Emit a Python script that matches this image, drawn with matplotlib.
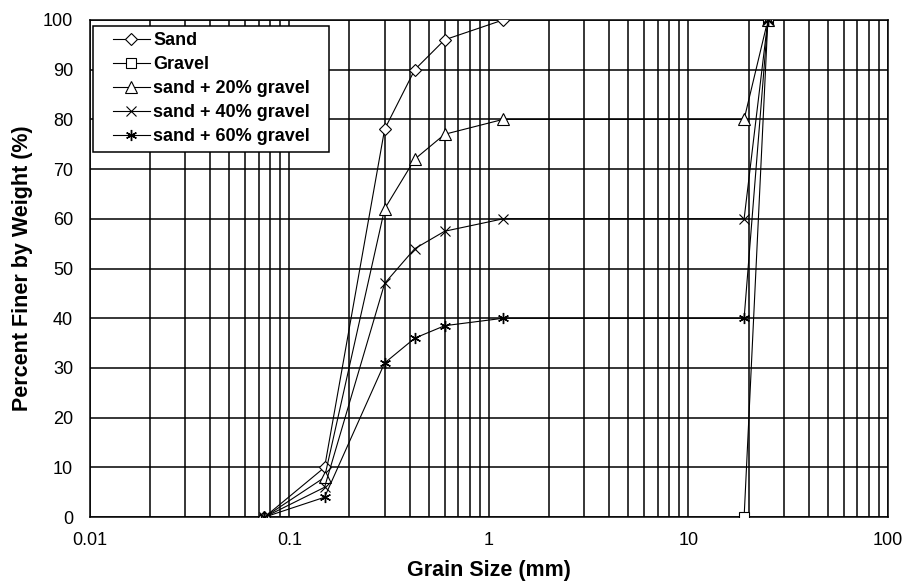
import matplotlib.pyplot as plt
from matplotlib.legend_handler import HandlerLine2D
from matplotlib.lines import Line2D
from matplotlib.ticker import FixedLocator, LogLocator, NullFormatter

plt.rcParams['font.family'] = ['Liberation Sans', 'DejaVu Sans']

# sieve sizes (mm)
sand_x = [0.075, 0.15, 0.3, 0.425, 0.6, 1.18]
sand_y = [0, 10, 78, 90, 96, 100]

gravel_x = [19, 25]
gravel_y = [0, 100]

mix_x = [0.075, 0.15, 0.3, 0.425, 0.6, 1.18, 19, 25]
mix20_y = [0, 8, 62, 72, 77, 80, 80, 100]
mix40_y = [0, 6, 47, 54, 57.5, 60, 60, 100]
mix60_y = [0, 4, 31, 36, 38.5, 40, 40, 100]

x_ticks = [0.01, 0.1, 1, 10, 100]
x_labels = ['0.01', '0.1', '1', '10', '100']
y_ticks = list(range(0, 101, 10))


class IndentHandler(HandlerLine2D):
    # legend line starts a bit to the right of the frame
    def get_xdata(self, legend, xdescent, ydescent, width, height, fontsize):
        off = 0.74 * fontsize
        x0 = -xdescent + off
        x1 = -xdescent + width
        return [x0, x1], [0.5 * (x0 + x1)]


fig = plt.figure(figsize=(9.08, 5.85), dpi=100)
ax = fig.add_axes([0.099, 0.116, 0.879, 0.85])

lw = 0.8
ax.plot(sand_x, sand_y, '-', color='black', lw=lw, marker='D', ms=6.5,
        mfc='white', mec='black', mew=0.8, label='Sand', zorder=5)
ax.plot(gravel_x, gravel_y, '-', color='black', lw=lw, marker='s', ms=7,
        mfc='white', mec='black', mew=0.8, label='Gravel', zorder=5)
ax.plot(mix_x, mix20_y, '-', color='black', lw=lw, marker='^', ms=8,
        mfc='white', mec='black', mew=0.8, label='sand + 20% gravel', zorder=5)
ax.plot(mix_x, mix40_y, '-', color='black', lw=lw, marker='x', ms=7,
        mec='black', mew=0.8, label='sand + 40% gravel', zorder=5)
ax.plot(mix_x, mix60_y, '-', color='black', lw=lw, marker=(6, 2, 0), ms=8,
        mec='black', mew=1.0, label='sand + 60% gravel', zorder=5)

ax.set_xscale('log')
ax.set_xlim(0.01, 100)
ax.set_ylim(0, 100)
ax.xaxis.set_major_locator(FixedLocator(x_ticks))
ax.set_xticklabels(x_labels)
ax.xaxis.set_minor_locator(LogLocator(base=10, subs=range(2, 10)))
ax.xaxis.set_minor_formatter(NullFormatter())
ax.set_yticks(y_ticks)

ax.grid(True, which='both', axis='x', color='black', lw=1.1)
ax.grid(True, which='major', axis='y', color='black', lw=1.1)
ax.tick_params(which='both', length=0, labelsize=13)
ax.tick_params(axis='x', pad=11)
ax.tick_params(axis='y', pad=12)
for s in ax.spines.values():
    s.set_linewidth(1.1)

ax.set_xlabel('Grain Size (mm)', fontsize=15.5, fontweight='bold')
ax.set_ylabel('Percent Finer by Weight (%)', fontsize=15.5, fontweight='bold')
ax.xaxis.set_label_coords(0.5, -0.086)
ax.yaxis.set_label_coords(-0.071, 0.5)

leg = ax.legend(loc='upper left', bbox_to_anchor=(0.0038, 0.788, 0.2957, 0.2),
                mode='expand', borderaxespad=0, fancybox=False,
                framealpha=1, edgecolor='black', borderpad=0.35,
                labelspacing=0.39, handlelength=2.82, handletextpad=0.17,
                handler_map={Line2D: IndentHandler()},
                prop={'weight': 'bold', 'size': 13})
leg.get_frame().set_linewidth(1.1)

fig.savefig('out.png', dpi=100)
